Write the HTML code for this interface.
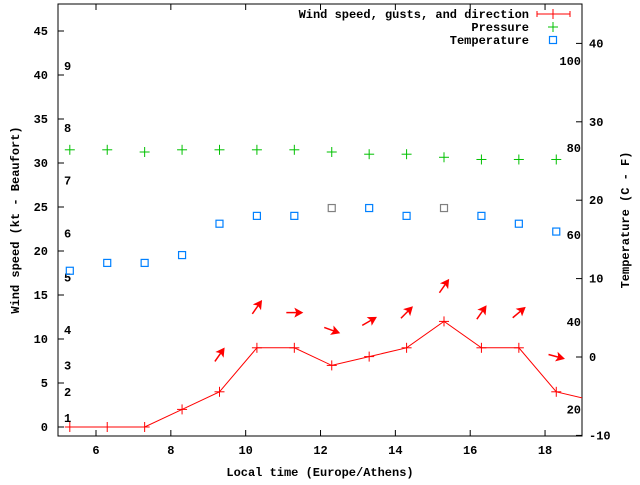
<!DOCTYPE html>
<html><head><meta charset="utf-8"><style>
body{margin:0;background:#fff;}
svg text{font-family:"Liberation Mono","DejaVu Sans Mono",monospace;font-weight:bold;font-size:12px;fill:#000;}
</style></head><body>
<svg id="chart" width="640" height="480"></svg>
<script>
const hours=[5.3,6.3,7.3,8.3,9.3,10.3,11.3,12.3,13.3,14.3,15.3,16.3,17.3,18.3,19.3];
const windKt=[0,0,0,2,4,9,9,7,8,9,12,9,9,4,3];
const gustKt=[null,null,null,null,8.2,13.6,13,11,12,13,16,13,13,8,null];
const arrowDeg=[null,null,null,null,55,55,0,-20,30,45,55,55,40,-15,null];
const pressureHpa=[1016,1016,1015.5,1016,1016,1016,1016,1015.5,1015,1015,1014.3,1013.8,1013.8,1013.8];
const tempC=[11,12,12,13,17,18,18,19,19,18,19,18,17,16];
const tempGrey=[0,0,0,0,0,0,0,1,0,0,1,0,0,0];
const xTicks=[6,8,10,12,14,16,18];
const yTicks=[0,5,10,15,20,25,30,35,40,45];
const y2Ticks=[-10,0,10,20,30,40];
const beaufort=[[1,1],[2,4],[3,7],[4,11],[5,17],[6,22],[7,28],[8,34],[9,41]];
const fahr=[20,40,60,80,100];

const L=58,R=582,T=4,B=436;
const X=h=>96+(h-6)*37.42;
const Y=v=>427-v*8.8;
const Y2=c=>357-c*7.84;
const YP=p=>Y(31.5+(p-1016)*0.5);
const NS="http://www.w3.org/2000/svg";
const svg=document.getElementById('chart');
function el(tag,attrs,parent){const e=document.createElementNS(NS,tag);for(const k in attrs)e.setAttribute(k,attrs[k]);(parent||svg).appendChild(e);return e;}
function txt(x,y,s,anchor,parent){const t=el('text',{x:x,y:y,'text-anchor':anchor||'start'},parent);t.textContent=s;return t;}

// clip
const defs=el('defs',{});
const cp=el('clipPath',{id:'clip'},defs);el('rect',{x:L,y:T,width:R-L,height:B-T},cp);

const axes=el('g',{});


el('rect',{x:L,y:T,width:R-L,height:B-T,fill:'none',stroke:'#000','stroke-width':1},axes);
xTicks.forEach(v=>{const x=X(v);
 el('line',{x1:x,y1:B,x2:x,y2:B-6,stroke:'#000'},axes);
 el('line',{x1:x,y1:T,x2:x,y2:T+6,stroke:'#000'},axes);
 const t=txt(x,B+18,String(v),'middle',axes);
 
 
});
yTicks.forEach(v=>{const y=Y(v);
 el('line',{x1:L,y1:y,x2:L+6,y2:y,stroke:'#000'},axes);
 const t=txt(L-10,y+4,String(v),'end',axes);
 
 
});
y2Ticks.forEach(v=>{const y=Y2(v);
 el('line',{x1:R,y1:y,x2:R-6,y2:y,stroke:'#000'},axes);
 const t=txt(R+7,y+4,String(v),'start',axes);
 
 
});
beaufort.forEach(b=>{const t=txt(64,Y(b[1])+4,String(b[0]),'start',axes);
 
 });
fahr.forEach(f=>{const t=txt(581,Y2((f-32)*5/9)+4,String(f),'end',axes);
 
 });
let t=txt(320,476,'Local time (Europe/Athens)','middle');

t=txt(0,0,'Wind speed (kt - Beaufort)','middle');t.setAttribute('transform','translate(19,220) rotate(-90)');

t=txt(0,0,'Temperature (C - F)','middle');t.setAttribute('transform','translate(629,220) rotate(-90)');


const plot=el('g',{'clip-path':'url(#clip)'});
function plus(x,y,c,g){el('line',{x1:x-5,y1:y,x2:x+5,y2:y,stroke:c},g);el('line',{x1:x,y1:y-5,x2:x,y2:y+5,stroke:c},g);}
// pressure
pressureHpa.forEach((p,i)=>{const g=el('g',{},plot);
 
 plus(X(hours[i]),YP(p),'#00c000',g);});
// temperature
tempC.forEach((c,i)=>{const r=el('rect',{x:X(hours[i])-3.5,y:Y2(c)-3.5,width:7,height:7,fill:'none',stroke:tempGrey[i]?'#808080':'#0080ff','stroke-width':1.2},plot);
 });
// wind line
const wl=el('polyline',{points:windKt.map((v,i)=>X(hours[i])+','+Y(v)).join(' '),fill:'none',stroke:'#f00','stroke-width':1},plot);

windKt.forEach((v,i)=>{const g=el('g',{},plot);
 
 plus(X(hours[i]),Y(v),'#f00',g);});
// gust arrows
gustKt.forEach((v,i)=>{if(v===null)return;
 const g=el('g',{transform:`translate(${X(hours[i])},${Y(v)}) rotate(${-arrowDeg[i]})`},plot);
 
 el('line',{x1:-8,y1:0,x2:4,y2:0,stroke:'#f00','stroke-width':1.5},g);
 el('polygon',{points:'9,0 0,-5 2,0 0,5',fill:'#f00'},g);});

// legend
const lg=el('g',{});

const ly=[14,27,40];
['Wind speed, gusts, and direction','Pressure','Temperature'].forEach((s,i)=>{const tt=txt(529,ly[i]+4,s,'end',lg);
 });
el('line',{x1:537,y1:14,x2:570,y2:14,stroke:'#f00'},lg);
el('line',{x1:537,y1:11,x2:537,y2:17,stroke:'#f00'},lg);
el('line',{x1:570,y1:11,x2:570,y2:17,stroke:'#f00'},lg);
plus(553,14,'#f00',lg);
plus(553,27,'#00c000',lg);
el('rect',{x:549.5,y:36.5,width:7,height:7,fill:'none',stroke:'#0080ff','stroke-width':1.2},lg);
</script>
</body></html>
